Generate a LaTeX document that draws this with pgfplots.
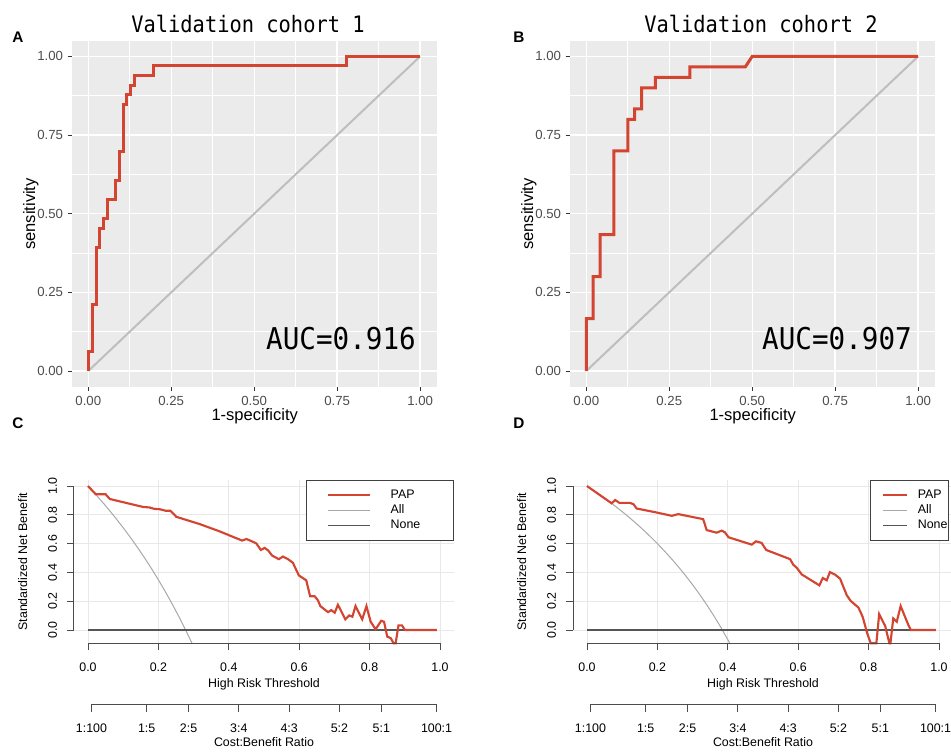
\documentclass[border=0pt]{standalone}
\usepackage{pgfplots}
\pgfplotsset{compat=1.18}
\usepackage{fontspec}
\setmainfont{Liberation Sans}
\newfontfamily\monofont{DejaVu Sans Mono}
\definecolor{ggbg}{HTML}{EBEBEB}
\definecolor{rocred}{RGB}{211,69,48}
\definecolor{diaggray}{HTML}{BEBEBE}
\definecolor{tickgray}{HTML}{4D4D4D}
\definecolor{allgray}{HTML}{A8A8A8}
\definecolor{nonegray}{HTML}{555555}
\newcommand{\dcafont}{\fontsize{9.3}{11}\selectfont}
\newcommand{\rocfont}{\fontsize{9.9}{11}\selectfont}

\pgfplotsset{
  rocaxis/.style={
    scale only axis, width=273.75pt, height=259.5pt,
    xmin=-0.05, xmax=1.05, ymin=-0.05, ymax=1.05,
    axis background/.style={fill=ggbg},
    axis line style={draw=none},
    xtick={0,0.25,0.5,0.75,1}, ytick={0,0.25,0.5,0.75,1},
    minor xtick={0.125,0.375,0.625,0.875}, minor ytick={0.125,0.375,0.625,0.875},
    xticklabels={0.00,0.25,0.50,0.75,1.00}, yticklabels={0.00,0.25,0.50,0.75,1.00},
    grid=both,
    major grid style={white, line width=1pt},
    minor grid style={white, line width=0.5pt},
    tick align=outside, xtick pos=left, ytick pos=left,
    major tick length=3pt, minor tick length=0pt,
    tick style={color=black!80, line width=0.6pt},
    ticklabel style={font=\rocfont, text=tickgray},
    xticklabel shift=1pt,
    no marks,
  },
  dcaaxis/.style={
    scale only axis, width=285.15pt, height=122.4pt,
    xmin=-0.04, xmax=1.04, ymin=-0.092, ymax=1.042,
    axis line style={draw=none},
    xtick={0,0.2,0.4,0.6,0.8,1}, ytick={0,0.2,0.4,0.6,0.8,1},
    xticklabels={0.0,0.2,0.4,0.6,0.8,1.0}, yticklabels={0.0,0.2,0.4,0.6,0.8,1.0},
    grid=major, major grid style={color=black!9, line width=0.5pt},
    tick align=outside, xtick pos=left, ytick pos=left,
    major tick length=5.2pt,
    tick style={color=black!70, line width=0.6pt},
    ticklabel style={font=\dcafont},
    yticklabel style={rotate=90, anchor=south},
    xticklabel shift=6pt, yticklabel shift=4pt,
    clip=false, no marks,
    legend cell align=left,
  },
  costaxis/.style={
    scale only axis, width=285.15pt, height=1pt,
    xmin=-0.04, xmax=1.04, ymin=0, ymax=1,
    axis line style={draw=none},
    ytick=\empty,
    xtick={0.0099,0.1667,0.2857,0.4286,0.5714,0.7143,0.8333,0.9901},
    xticklabels={1:100,1:5,2:5,3:4,4:3,5:2,5:1,100:1},
    tick align=outside, xtick pos=left,
    major tick length=5.5pt,
    tick style={color=black!70, line width=0.6pt},
    ticklabel style={font=\dcafont},
    xticklabel shift=6pt,
    clip=false,
  },
}

\begin{document}
\begin{tikzpicture}
\useasboundingbox (0,0) rectangle (713.25pt,563.25pt);

% ---------------- Panel A ----------------
\begin{axis}[rocaxis, at={(53.775pt,273.225pt)}, anchor=south west]
\addplot[diaggray, line width=1.5pt] coordinates {(0,0) (1,1)};
\addplot[rocred, line width=2.25pt] coordinates {
(0,0) (0,0.0606) (0.0116,0.0606) (0.0116,0.2121) (0.0233,0.2121) (0.0233,0.3939)
(0.0349,0.3939) (0.0349,0.4545) (0.0465,0.4545) (0.0465,0.4848) (0.0581,0.4848)
(0.0581,0.5455) (0.0814,0.5455) (0.0814,0.6061) (0.0930,0.6061) (0.0930,0.6970)
(0.1047,0.6970) (0.1047,0.8485) (0.1163,0.8485) (0.1163,0.8788) (0.1279,0.8788)
(0.1279,0.9091) (0.1395,0.9091) (0.1395,0.9394) (0.1977,0.9394) (0.1977,0.9697)
(0.7791,0.9697) (0.7791,1) (1,1)};
\end{axis}

% ---------------- Panel B ----------------
\begin{axis}[rocaxis, at={(427.275pt,273.225pt)}, anchor=south west]
\addplot[diaggray, line width=1.5pt] coordinates {(0,0) (1,1)};
\addplot[rocred, line width=2.25pt] coordinates {
(0,0) (0,0.1667) (0.0208,0.1667) (0.0208,0.3) (0.0417,0.3) (0.0417,0.4333)
(0.0833,0.4333) (0.0833,0.7) (0.125,0.7) (0.125,0.8) (0.1458,0.8) (0.1458,0.8333)
(0.1667,0.8333) (0.1667,0.9) (0.2083,0.9) (0.2083,0.9333) (0.3125,0.9333)
(0.3125,0.9667) (0.4792,0.9667) (0.5,1) (1,1)};
\end{axis}

% ---------------- Panel C ----------------
\begin{axis}[dcaaxis, at={(55.425pt,80.85pt)}, anchor=south west,
  legend style={at={(rel axis cs:1,1)}, anchor=north east, draw=black!75, line width=0.6pt,
    fill=white, inner xsep=0pt, inner ysep=6.75pt, row sep=2.25pt, font=\dcafont,
    nodes={inner sep=0pt, text height=7pt, text depth=2pt}},
  legend image code/.code={\path (-15pt,0pt); \draw[#1] (0pt,0pt) -- (31.5pt,0pt); \path (46.5pt,0pt);}]
\addplot[allgray, line width=0.75pt, forget plot] coordinates {
(0,1) (0.02,0.9468) (0.04,0.8914) (0.06,0.8337) (0.08,0.7734) (0.10,0.7104)
(0.12,0.6446) (0.14,0.5758) (0.16,0.5036) (0.18,0.4280) (0.20,0.3485) (0.22,0.2650)
(0.24,0.1770) (0.26,0.0844) (0.28,-0.0135) (0.2953,-0.092)};
\addplot[nonegray, line width=1.1pt, forget plot] coordinates {(0,0) (0.991,0)};
\addplot[rocred, line width=1.6pt] coordinates {
(0,1.0) (0.022,0.943) (0.050,0.943) (0.062,0.910) (0.156,0.855) (0.175,0.851)
(0.189,0.841) (0.204,0.839) (0.221,0.828) (0.234,0.828) (0.251,0.786) (0.317,0.736)
(0.374,0.685) (0.438,0.621) (0.450,0.632) (0.461,0.621) (0.478,0.602) (0.491,0.556)
(0.502,0.570) (0.512,0.552) (0.523,0.517) (0.542,0.492) (0.554,0.510) (0.568,0.492)
(0.582,0.467) (0.599,0.379) (0.620,0.345) (0.631,0.234) (0.644,0.234) (0.653,0.207)
(0.660,0.166) (0.677,0.133) (0.682,0.124) (0.691,0.138) (0.701,0.120) (0.710,0.175)
(0.731,0.074) (0.742,0.101) (0.751,0.092) (0.760,0.166) (0.779,0.074) (0.791,0.166)
(0.803,0.057) (0.817,0.005) (0.833,0.064) (0.841,0.057) (0.850,-0.046) (0.860,-0.057)
(0.868,-0.092) (0.874,-0.092) (0.882,0.032) (0.892,0.032) (0.900,0.0) (0.991,0.0)};
\addlegendentry{\makebox[47.25pt][l]{PAP}}
\addlegendimage{allgray, line width=0.75pt}
\addlegendentry{\makebox[47.25pt][l]{All}}
\addlegendimage{nonegray, line width=1.1pt}
\addlegendentry{\makebox[47.25pt][l]{None}}
\draw[black!70, line width=0.6pt] (axis cs:-0.04,0) -- (axis cs:-0.04,1);
\draw[black!70, line width=0.6pt] (axis cs:0,-0.092) -- (axis cs:1,-0.092);
\end{axis}
\begin{axis}[costaxis, at={(55.425pt,35.025pt)}, anchor=south west]
\draw[black!70, line width=0.6pt] (axis cs:0.0099,0) -- (axis cs:0.9901,0);
\end{axis}

% ---------------- Panel D ----------------
\begin{axis}[dcaaxis, at={(429.675pt,80.85pt)}, anchor=south west,
  legend style={at={(axis cs:1.028,1.042)}, anchor=north east, draw=black!75, line width=0.6pt,
    fill=white, inner xsep=0.75pt, inner ysep=6.75pt, row sep=2.25pt, font=\dcafont,
    nodes={inner sep=0pt, text height=7pt, text depth=2pt}},
  legend image code/.code={\path (-7.5pt,0pt); \draw[#1] (0pt,0pt) -- (18pt,0pt); \path (25.5pt,0pt);}]
\addplot[allgray, line width=0.75pt, forget plot] coordinates {
(0,1) (0.02,0.9673) (0.04,0.9333) (0.06,0.8979) (0.08,0.8609) (0.10,0.8222)
(0.12,0.7818) (0.14,0.7395) (0.16,0.6952) (0.18,0.6488) (0.20,0.6) (0.22,0.5487)
(0.24,0.4947) (0.26,0.4378) (0.28,0.3778) (0.30,0.3143) (0.32,0.2471) (0.34,0.1758)
(0.36,0.1) (0.38,0.0194) (0.4056,-0.092)};
\addplot[nonegray, line width=1.1pt, forget plot] coordinates {(0,0) (0.991,0)};
\addplot[rocred, line width=1.6pt] coordinates {
(0,1.0) (0.070,0.880) (0.080,0.903) (0.092,0.883) (0.122,0.883) (0.132,0.874)
(0.141,0.844) (0.198,0.816) (0.241,0.793) (0.259,0.805) (0.330,0.770) (0.340,0.694)
(0.368,0.676) (0.383,0.690) (0.392,0.678) (0.402,0.644) (0.468,0.593) (0.480,0.616)
(0.496,0.605) (0.509,0.556) (0.577,0.492) (0.586,0.453) (0.596,0.432) (0.610,0.386)
(0.660,0.310) (0.670,0.361) (0.681,0.345) (0.690,0.402) (0.705,0.384) (0.719,0.356)
(0.738,0.241) (0.749,0.202) (0.771,0.156) (0.783,0.092) (0.796,-0.023) (0.806,-0.092)
(0.822,-0.092) (0.830,0.110) (0.847,0.028) (0.859,-0.092) (0.862,-0.092) (0.870,0.080)
(0.880,0.057) (0.891,0.166) (0.913,0.034) (0.920,0.0) (0.991,0.0)};
\addlegendentry{PAP}
\addlegendimage{allgray, line width=0.75pt}
\addlegendentry{All}
\addlegendimage{nonegray, line width=1.1pt}
\addlegendentry{None}
\draw[black!70, line width=0.6pt] (axis cs:-0.04,0) -- (axis cs:-0.04,1);
\draw[black!70, line width=0.6pt] (axis cs:0,-0.092) -- (axis cs:1,-0.092);
\end{axis}
\begin{axis}[costaxis, at={(429.675pt,35.025pt)}, anchor=south west]
\draw[black!70, line width=0.6pt] (axis cs:0.0099,0) -- (axis cs:0.9901,0);
\end{axis}

% ---------------- Text ----------------
\begin{scope}[x=0.75pt, y=0.75pt]
\node[font=\bfseries\fontsize{11.5}{12}\selectfont, inner sep=0pt] at (18,{751-37}) {A};
\node[font=\bfseries\fontsize{11.5}{12}\selectfont, inner sep=0pt] at (519,{751-37}) {B};
\node[font=\bfseries\fontsize{11.5}{12}\selectfont, inner sep=0pt] at (18,{751-423}) {C};
\node[font=\bfseries\fontsize{11.5}{12}\selectfont, inner sep=0pt] at (519,{751-423}) {D};

\node[font=\monofont\fontsize{17}{18}\selectfont, xscale=0.9, anchor=base, inner sep=0pt] at (248,{751-33}) {Validation cohort 1};
\node[font=\monofont\fontsize{17}{18}\selectfont, xscale=0.9, anchor=base, inner sep=0pt] at (761,{751-33}) {Validation cohort 2};
\node[font=\monofont\fontsize{22.5}{24}\selectfont, xscale=0.92, anchor=base, inner sep=0pt] at (341,{751-350}) {AUC=0.916};
\node[font=\monofont\fontsize{22.5}{24}\selectfont, xscale=0.92, anchor=base, inner sep=0pt] at (837,{751-350}) {AUC=0.907};

\node[font=\fontsize{12.4}{13}\selectfont, anchor=base, inner sep=0pt] at (254.7,{751-421}) {1-specificity};
\node[font=\fontsize{12.4}{13}\selectfont, anchor=base, inner sep=0pt] at (752.7,{751-421}) {1-specificity};
\node[font=\fontsize{12.4}{13}\selectfont, anchor=base, rotate=90, inner sep=0pt] at (35,{751-214}) {sensitivity};
\node[font=\fontsize{12.4}{13}\selectfont, anchor=base, rotate=90, inner sep=0pt] at (533,{751-214}) {sensitivity};

\node[font=\dcafont, anchor=base, rotate=90, inner sep=0pt] at (27,{751-561.6}) {Standardized Net Benefit};
\node[font=\dcafont, anchor=base, rotate=90, inner sep=0pt] at (526,{751-561.6}) {Standardized Net Benefit};
\node[font=\dcafont, anchor=base, inner sep=0pt] at (264,{751-687}) {High Risk Threshold};
\node[font=\dcafont, anchor=base, inner sep=0pt] at (763,{751-687}) {High Risk Threshold};
\node[font=\dcafont, anchor=base, inner sep=0pt] at (264,{751-746}) {Cost:Benefit Ratio};
\node[font=\dcafont, anchor=base, inner sep=0pt] at (763,{751-746}) {Cost:Benefit Ratio};
\end{scope}
\end{tikzpicture}
\end{document}
